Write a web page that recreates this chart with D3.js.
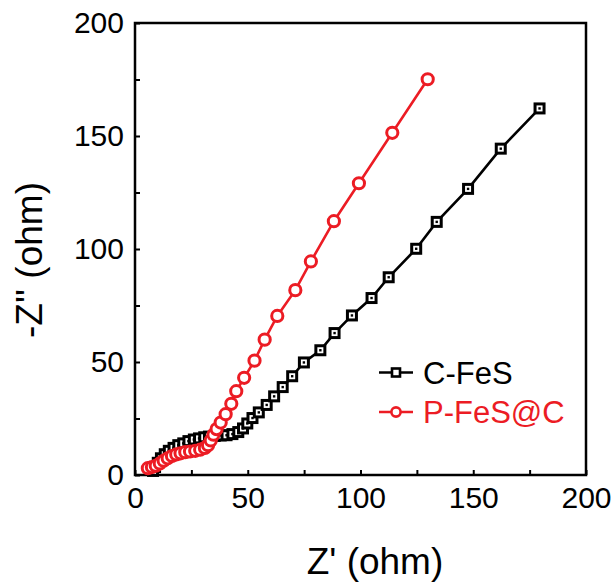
<!DOCTYPE html>
<html>
<head>
<meta charset="utf-8">
<script src="https://cdn.jsdelivr.net/npm/d3@7"></script>
<style>
  body { margin: 0; background: #fff; }
  text { font-family: "Liberation Sans", Arial, sans-serif; }
</style>
</head>
<body>
<div id="chart"></div>
<script>
  let width = 616, height = 584

  // Nyquist data: Z' and -Z'' in ohm
  let cfesX = [8.0, 8.9, 10.1, 11.5, 13.2, 15.0, 17.1, 19.2, 21.4, 23.7, 26.1, 28.4, 30.7, 32.8, 35.4, 38.0, 40.6, 43.2, 45.8, 47.9, 49.8, 52.1, 54.9, 58.4, 61.7, 65.5, 69.7, 74.9, 82.2, 88.5, 96.2, 104.9, 112.5, 124.7, 133.8, 147.7, 162.2, 179.4]
  let cfesY = [1.8, 3.5, 5.4, 7.4, 9.2, 10.7, 12.0, 13.2, 14.0, 15.0, 15.7, 16.2, 16.7, 17.0, 17.3, 17.5, 17.6, 18.1, 19.0, 20.6, 22.8, 25.2, 27.7, 31.0, 34.8, 38.9, 43.7, 49.8, 55.2, 62.8, 70.6, 78.3, 87.5, 100.1, 112.0, 126.6, 144.4, 162.2]

  let pfescX = [5.7, 7.5, 9.2, 11.0, 12.7, 14.5, 16.4, 18.3, 20.2, 22.3, 24.4, 26.7, 28.9, 31.0, 32.4, 33.6, 34.8, 36.2, 38.0, 40.2, 42.7, 44.9, 48.4, 53.0, 57.5, 63.1, 71.1, 78.0, 88.2, 99.3, 114.1, 129.8]
  let pfescY = [3.0, 3.5, 4.1, 5.1, 6.3, 7.4, 8.4, 9.1, 9.6, 10.1, 10.4, 10.7, 11.2, 12.0, 13.2, 15.3, 17.8, 20.3, 23.2, 26.9, 31.5, 37.1, 43.0, 50.6, 59.9, 70.4, 81.8, 94.5, 112.3, 129.1, 151.4, 175.1]

  let tickValues = [0, 25, 50, 75, 100, 125, 150, 175, 200]
  let seriesNames = ["C-FeS", "P-FeS@C"]

  let black = "#000000", red = "#ec1c24"

  let x = d3.scaleLinear().domain([0, 200]).range([135, 586])
  let y = d3.scaleLinear().domain([0, 200]).range([475, 23])

  let svg = d3.select("#chart").append("svg")
    .attr("width", width)
    .attr("height", height)

  function fmt(d){
    return d % 50 == 0 ? d : ""
  }

  let xAxis = svg.append("g")
    .attr("transform", "translate(0," + y(0) + ")")
    .call(d3.axisBottom(x).tickValues(tickValues).tickSize(-5).tickPadding(12).tickFormat(fmt))
  xAxis.select(".domain").remove()
  xAxis.selectAll("line").attr("stroke-width", 2)
  xAxis.selectAll("text").style("font-size", "30px").attr("fill", "#000")

  let yAxis = svg.append("g")
    .attr("transform", "translate(" + x(0) + ",0)")
    .call(d3.axisLeft(y).tickValues(tickValues).tickSize(-5).tickPadding(11).tickFormat(fmt))
  yAxis.select(".domain").remove()
  yAxis.selectAll("line").attr("stroke-width", 2)
  yAxis.selectAll("text").style("font-size", "30px").attr("fill", "#000")

  // frame
  svg.append("rect")
    .attr("x", x(0)).attr("y", y(200))
    .attr("width", x(200) - x(0)).attr("height", y(0) - y(200))
    .attr("fill", "none").attr("stroke", "#000").attr("stroke-width", 2.5)

  let line = d3.line().x(function(d){ return x(d[0]) }).y(function(d){ return y(d[1]) })

  let cfes = cfesX.map(function(v, i){ return [v, cfesY[i]] })
  let pfesc = pfescX.map(function(v, i){ return [v, pfescY[i]] })

  svg.append("path").datum(cfes).attr("d", line)
    .attr("fill", "none").attr("stroke", black).attr("stroke-width", 2.6)

  let sq = svg.append("g").selectAll("g").data(cfes).enter().append("g")
    .attr("transform", function(d){ return "translate(" + x(d[0]) + "," + y(d[1]) + ")" })
  sq.append("rect").attr("x", -4.5).attr("y", -4.5).attr("width", 9).attr("height", 9)
    .attr("fill", "#fff").attr("stroke", black).attr("stroke-width", 3)
  sq.append("rect").attr("x", -1.2).attr("y", -1.2).attr("width", 2.4).attr("height", 2.4).attr("fill", black)

  svg.append("path").datum(pfesc).attr("d", line)
    .attr("fill", "none").attr("stroke", red).attr("stroke-width", 2.6)

  svg.append("g").selectAll("circle").data(pfesc).enter().append("circle")
    .attr("cx", function(d){ return x(d[0]) })
    .attr("cy", function(d){ return y(d[1]) })
    .attr("r", 5.6)
    .attr("fill", "#fff").attr("stroke", red).attr("stroke-width", 3)

  // legend
  let legend = svg.append("g")
  let ly = [372.5, 412]
  let lcol = [black, red]
  seriesNames.forEach(function(name, i){
    legend.append("line").attr("x1", 379).attr("x2", 413).attr("y1", ly[i]).attr("y2", ly[i])
      .attr("stroke", lcol[i]).attr("stroke-width", 2.6)
    if (i == 0){
      legend.append("rect").attr("x", 392).attr("y", ly[i] - 4).attr("width", 8).attr("height", 8)
        .attr("fill", "#fff").attr("stroke", black).attr("stroke-width", 2.6)
    }
    else {
      legend.append("circle").attr("cx", 396).attr("cy", ly[i]).attr("r", 4.6)
        .attr("fill", "#fff").attr("stroke", red).attr("stroke-width", 2.6)
    }
    legend.append("text").attr("x", 423).attr("y", ly[i] + 11)
      .style("font-size", "31px").attr("fill", lcol[i]).text(name)
  })

  // axis titles
  svg.append("text").attr("x", 375).attr("y", 574).attr("text-anchor", "middle")
    .style("font-size", "37px").text("Z' (ohm)")
  svg.append("text").attr("transform", "translate(42,260) rotate(-90)").attr("text-anchor", "middle")
    .style("font-size", "37px").text("-Z'' (ohm)")
</script>
</body>
</html>
